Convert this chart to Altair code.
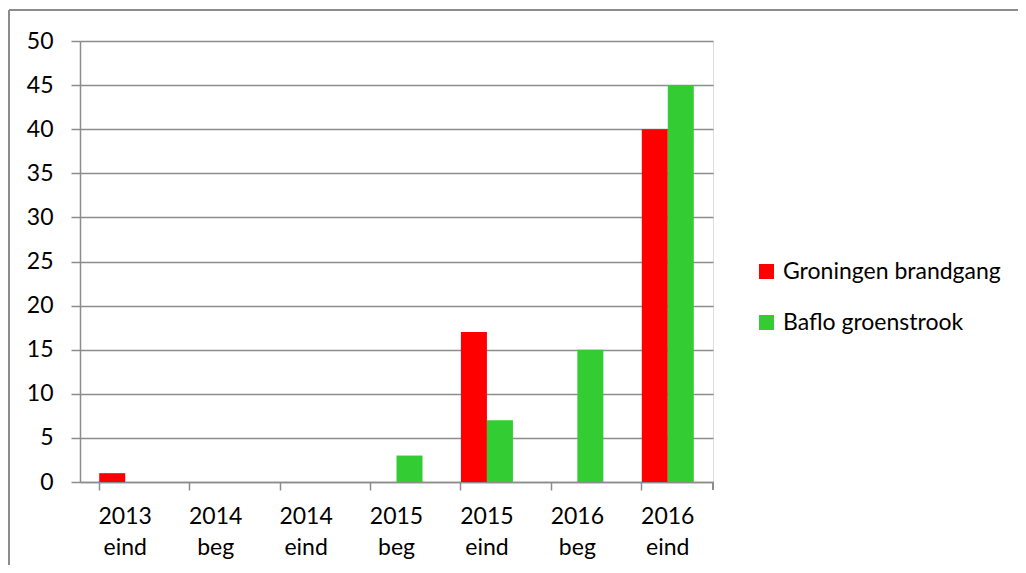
import altair as alt
import pandas as pd

categories = ["2013 eind", "2014 beg", "2014 eind", "2015 beg", "2015 eind", "2016 beg", "2016 eind"]
series_names = ["Groningen brandgang", "Baflo groenstrook"]
groningen = [1, 0, 0, 0, 17, 0, 40]
baflo = [0, 0, 0, 3, 7, 15, 45]
y_ticks = [0, 5, 10, 15, 20, 25, 30, 35, 40, 45, 50]
colors = ["#FF0000", "#33CC33"]

rows = []
for c, g, b in zip(categories, groningen, baflo):
    rows.append({"cat": c, "series": series_names[0], "value": g})
    rows.append({"cat": c, "series": series_names[1], "value": b})
df = pd.DataFrame(rows)

FONT = "Lato"
GRAY = "#8C8C8C"
W, H = 633, 441
PAD_R, PAD_B = 305, 83

bars = alt.Chart(df).mark_bar().encode(
    x=alt.X("cat:N", sort=categories,
            scale=alt.Scale(paddingInner=0.425, paddingOuter=0.2125),
            axis=alt.Axis(title=None, bandPosition=0, labelAngle=0, grid=False,
                          domainColor=GRAY, tickColor=GRAY, tickSize=8, tickWidth=1.5,
                          domainWidth=1.5,
                          labelExpr="split(datum.label, ' ')", labelLineHeight=31,
                          labelPadding=15, labelFontSize=23, labelFont=FONT,
                          labelColor="#000000", labelBaseline="top")),
    xOffset=alt.XOffset("series:N", sort=series_names,
                        scale=alt.Scale(paddingInner=0, paddingOuter=0)),
    y=alt.Y("value:Q", scale=alt.Scale(domain=[0, 50], nice=False),
            axis=alt.Axis(title=None, values=y_ticks, grid=True, gridColor=GRAY,
                          gridWidth=1.5, domainColor=GRAY, domainWidth=1.5,
                          tickColor=GRAY, tickSize=9, tickWidth=1.5,
                          labelPadding=18, labelFontSize=23, labelFont=FONT,
                          labelColor="#000000")),
    color=alt.Color("series:N", sort=series_names,
                    scale=alt.Scale(domain=series_names, range=colors),
                    legend=alt.Legend(title=None, orient="none", legendX=675, legendY=219,
                                      symbolType="square", symbolSize=225,
                                      symbolStrokeWidth=0, labelFontSize=23,
                                      labelFont=FONT, labelColor="#000000",
                                      labelLimit=500,
                                      labelOffset=5, rowPadding=27, padding=0)),
)

end_tick = alt.Chart(df).mark_rule(color=GRAY, strokeWidth=1.5).encode(
    x=alt.value(W), y=alt.value(H), y2=alt.value(H + 8)
)

border_left = alt.Chart(df).mark_rule(color=GRAY, strokeWidth=1.5).encode(
    x=alt.value(-71), y=alt.value(-31), y2=alt.value(H + PAD_B)
)
border_top = alt.Chart(df).mark_rule(color=GRAY, strokeWidth=1.5).encode(
    x=alt.value(-71), x2=alt.value(W + PAD_R), y=alt.value(-31)
)

chart = alt.layer(border_left, border_top, bars, end_tick).properties(
    width=W, height=H,
    autosize=alt.AutoSizeParams(type="none"),
    padding={"left": 72, "top": 33, "right": PAD_R, "bottom": PAD_B},
).configure_view(stroke=None).configure(background="white")

chart.save("out.html", embed_options={"renderer": "svg", "actions": False})
